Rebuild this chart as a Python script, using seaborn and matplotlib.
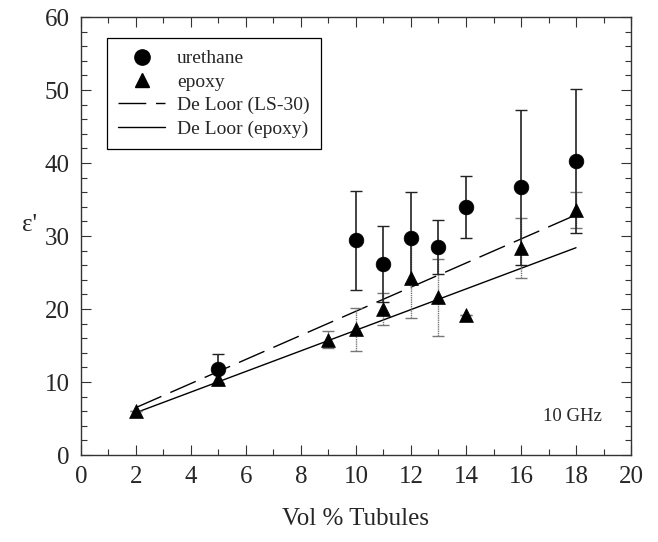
import numpy as np
import pandas as pd
import seaborn as sns
import matplotlib.pyplot as plt
from matplotlib.lines import Line2D
from matplotlib.ticker import MultipleLocator

# data
ure_x = [5, 10, 11, 12, 13, 14, 16, 18]
ure_y = [11.8, 29.4, 26.2, 29.8, 28.5, 34.0, 36.7, 40.3]
ure_err = [2.0, 6.8, 5.2, 6.3, 3.7, 4.2, 10.6, 9.9]

epo_x = [2, 5, 9, 10, 11, 12, 13, 14, 16, 18]
epo_y = [6.0, 10.4, 15.8, 17.2, 20.0, 24.3, 21.6, 19.2, 28.4, 33.6]
epo_err = [0.0, 0.8, 1.2, 3.0, 2.2, 5.5, 5.3, 0.0, 4.1, 2.5]

line_x = [2, 18]
loor_ls30 = [6.5, 32.9]
loor_epoxy = [5.8, 28.4]

sns.set_style("ticks")
plt.rcParams['font.family'] = ['Liberation Serif', 'DejaVu Serif']

fig = plt.figure(figsize=(6.58, 5.42), dpi=100)
ax = fig.add_axes([0.123, 0.1605, 0.836, 0.808])

dash = (20, 7)
df_lines = pd.DataFrame({"x": line_x * 2,
                         "y": loor_ls30 + loor_epoxy,
                         "model": ["LS-30"] * 2 + ["epoxy"] * 2})
sns.lineplot(data=df_lines[df_lines.model == "LS-30"], x="x", y="y", ax=ax,
             color="black", lw=1.0, dashes=[dash], style="model", legend=False)
sns.lineplot(data=df_lines[df_lines.model == "epoxy"], x="x", y="y", ax=ax,
             color="black", lw=1.0, legend=False)

# error bars
eb = ax.errorbar(epo_x, epo_y, yerr=epo_err, fmt="none", ecolor="#777777",
                 elinewidth=1.0, capsize=4, capthick=1.0, zorder=2)
eb[2][0].set_linestyle((0, (1, 0.6)))
ax.errorbar(ure_x, ure_y, yerr=ure_err, fmt="none", ecolor="#222222",
            elinewidth=1.2, capsize=4, capthick=1.0, zorder=2)

sns.scatterplot(x=epo_x, y=epo_y, ax=ax, marker="^", s=100, color="black",
                edgecolor="black", linewidth=0.5, zorder=3)
sns.scatterplot(x=ure_x, y=ure_y, ax=ax, marker="o", s=112, color="black",
                edgecolor="black", linewidth=0.5, zorder=4)

ax.set_xlim(0, 20)
ax.set_ylim(0, 60)
ax.xaxis.set_major_locator(MultipleLocator(2))
ax.xaxis.set_minor_locator(MultipleLocator(1))
ax.yaxis.set_major_locator(MultipleLocator(10))
ax.yaxis.set_minor_locator(MultipleLocator(2))
ax.tick_params(which="both", direction="in", top=True, right=True,
               labelsize=18, width=0.8, color="#333333")
ax.tick_params(which="major", length=7, pad=8)
ax.tick_params(which="minor", length=4)
for s in ax.spines.values():
    s.set_linewidth(1.0)
    s.set_color("#333333")

ax.set_xlabel("Vol % Tubules", fontsize=18, labelpad=14)
ax.set_ylabel("ε'", fontsize=18, rotation=0)
ax.yaxis.set_label_coords(-0.093, 0.5)

ax.text(18.95, 5.3, "10 GHz", fontsize=13.5, ha="right", va="center")

handles = [
    Line2D([], [], ls="none", marker="o", color="black", markersize=11),
    Line2D([], [], ls="none", marker="^", color="black", markersize=10),
    Line2D([], [], ls=(0, dash), color="black", lw=1.0),
    Line2D([], [], ls="-", color="black", lw=1.0),
]
labels = ["urethane", "epoxy", "De Loor (LS-30)", "De Loor (epoxy)"]
leg = ax.legend(handles, labels, loc="upper left", bbox_to_anchor=(0.047, 0.952),
                borderaxespad=0, fontsize=14, frameon=True, fancybox=False,
                framealpha=1, edgecolor="black", handlelength=2.4,
                labelspacing=0.3, borderpad=0.6, handletextpad=0.6)
leg.get_frame().set_linewidth(0.9)

fig.savefig("out.png", dpi=100)
